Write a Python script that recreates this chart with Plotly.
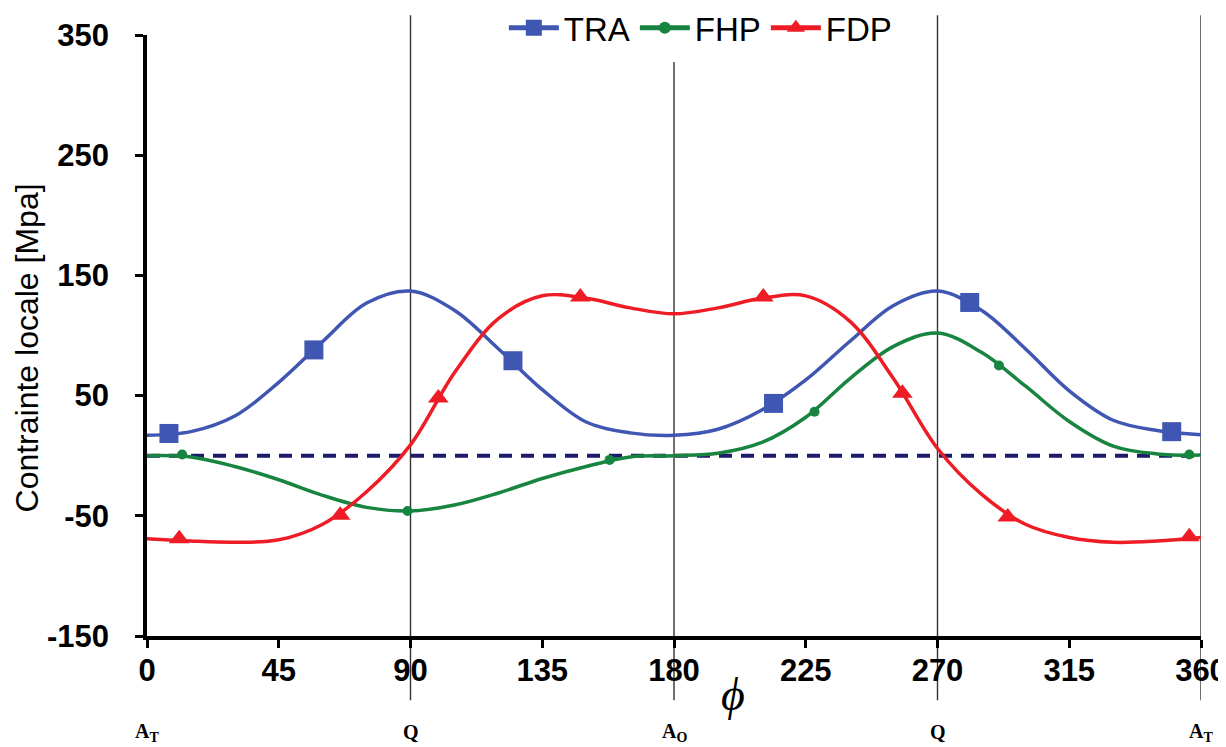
import plotly.graph_objects as go

# ---------------- data ----------------
PHI = [0, 15, 30, 45, 60, 75, 90, 105, 120, 135, 150, 165, 180,
       195, 210, 225, 240, 255, 270, 285, 300, 315, 330, 345, 360]

TRA = [17, 20, 33, 61, 95, 127, 137, 121, 89, 55, 28, 19, 17,
       22, 38, 63, 95, 125, 137, 121, 89, 54, 29.5, 21, 17.5]
FHP = [0, -1, -9, -20, -33, -43, -46, -41, -31, -19, -9, -1, 0,
       2, 11, 32, 64, 91, 102, 86, 58, 28.5, 8, 1.5, 0.5]
FDP = [-69, -71, -72, -70, -57, -30, 9, 69, 114, 133, 131, 123, 118,
       123, 131, 133, 112, 64, 6, -32, -57, -68, -72, -71, -68]

TRA_MARK_X = [7.5, 57, 125, 214, 281, 350]
TRA_MARK_Y = [18.5, 88, 79, 43.5, 127.5, 20]
FHP_MARK_X = [12, 89, 158, 228, 291, 356]
FHP_MARK_Y = [1, -46, -3.5, 36.5, 75, 1]
FDP_MARK_X = [11, 66, 99.5, 148, 210.5, 258, 294, 356]
FDP_MARK_Y = [-69, -49.5, 48, 132, 132, 52, -51, -67.5]

SERIES = ["TRA", "FHP", "FDP"]
ZERO_LEVEL = 0

X_TICKS = [0, 45, 90, 135, 180, 225, 270, 315, 360]
Y_TICKS = [-150, -50, 50, 150, 250, 350]
Y_TICK_TEXT = ["-150", "-50", "50", "150", "250", "350"]
POS_X = [0, 90, 180, 270, 360]
POS_LABELS = ["A<sub>T</sub>", "Q", "A<sub>O</sub>", "Q", "A<sub>T</sub>"]
X_TITLE = "ϕ"
Y_TITLE = "Contrainte locale [Mpa]"
VLINES_TALL = [90, 270, 360]
VLINE_SHORT = [180]

# ---------------- styles ----------------
COLORS = {"TRA": "#3F56B2", "FHP": "#17843F", "FDP": "#EE1C24"}
SYMBOLS = {"TRA": "square", "FHP": "circle", "FDP": "triangle-up"}
MSIZE = {"TRA": 19, "FHP": 10, "FDP": 18}
DATA = {"TRA": (TRA, TRA_MARK_X, TRA_MARK_Y),
        "FHP": (FHP, FHP_MARK_X, FHP_MARK_Y),
        "FDP": (FDP, FDP_MARK_X, FDP_MARK_Y)}

fig = go.Figure()

# dashed zero reference
fig.add_trace(go.Scatter(x=[X_TICKS[0], X_TICKS[-1]], y=[ZERO_LEVEL, ZERO_LEVEL],
                         mode="lines", showlegend=False, hoverinfo="skip",
                         line=dict(color="#1B1A6B", width=4, dash="13px,9px")))

for name in SERIES:
    vals, mx, my = DATA[name]
    c = COLORS[name]
    fig.add_trace(go.Scatter(x=PHI, y=vals, mode="lines", showlegend=False,
                             line=dict(color=c, width=3.5, shape="spline", smoothing=1.0)))
    fig.add_trace(go.Scatter(x=mx, y=my, mode="markers", showlegend=False,
                             marker=dict(color=c, symbol=SYMBOLS[name], size=MSIZE[name],
                                         line=dict(width=0))))
    fig.add_trace(go.Scatter(x=[None], y=[None], mode="lines+markers", name=name,
                             line=dict(color=c, width=5),
                             marker=dict(color=c, symbol=SYMBOLS[name], size=MSIZE[name] + 2)))

shapes = []
for xv in VLINES_TALL:
    shapes.append(dict(type="line", xref="x", yref="paper", x0=xv, x1=xv,
                       y0=-0.107, y1=1.033, line=dict(color="#333333", width=1.4),
                       layer="below"))
for xv in VLINE_SHORT:
    shapes.append(dict(type="line", xref="x", yref="paper", x0=xv, x1=xv,
                       y0=-0.107, y1=0.955, line=dict(color="#333333", width=1.4),
                       layer="below"))

annotations = []
for xv, lab in zip(POS_X, POS_LABELS):
    annotations.append(dict(x=xv, y=-0.16, xref="x", yref="paper", text="<b>" + lab + "</b>",
                            showarrow=False, xanchor="center", yanchor="middle",
                            font=dict(family="Liberation Serif", size=20, color="black")))
annotations.append(dict(x=200, y=-0.098, xref="x", yref="paper", text="<i>" + X_TITLE + "</i>",
                        showarrow=False, xanchor="center", yanchor="middle",
                        font=dict(family="Liberation Serif", size=46, color="black")))
annotations.append(dict(x=-0.1139, y=0.48, xref="paper", yref="paper", text=Y_TITLE,
                        showarrow=False, xanchor="center", yanchor="middle", textangle=-90,
                        font=dict(family="Liberation Sans", size=32, color="black")))

tick_font = dict(family="Liberation Sans", size=31, color="black", weight="bold")

# page body adds an 8px offset, so the figure is sized to fit the 1226x747 window
fig.update_layout(
    width=1218, height=739,
    paper_bgcolor="white", plot_bgcolor="white",
    margin=dict(l=139, r=25, t=27, b=111, autoexpand=False),
    showlegend=True,
    legend=dict(orientation="h", x=0.525, xanchor="center", y=1.012, yanchor="middle",
                font=dict(family="Liberation Sans", size=33, color="black"),
                bgcolor="rgba(0,0,0,0)", itemwidth=50, tracegroupgap=0),
    shapes=shapes, annotations=annotations,
    xaxis=dict(range=[0, 360], tickvals=X_TICKS, showgrid=False, zeroline=False,
               showline=True, linecolor="black", linewidth=3.5, automargin=False,
               ticks="outside", ticklen=8, tickwidth=2.5, tickcolor="black",
               tickfont=tick_font, ticklabelstandoff=-4, ticklabeloverflow="allow"),
    yaxis=dict(range=[-150, 350], tickvals=Y_TICKS, ticktext=Y_TICK_TEXT,
               showgrid=False, zeroline=False, automargin=False,
               showline=True, linecolor="black", linewidth=3.5,
               ticks="outside", ticklen=8, tickwidth=2.5, tickcolor="black",
               tickfont=tick_font, ticklabelstandoff=20, ticklabeloverflow="allow"),
)

fig.write_html("out.html")
